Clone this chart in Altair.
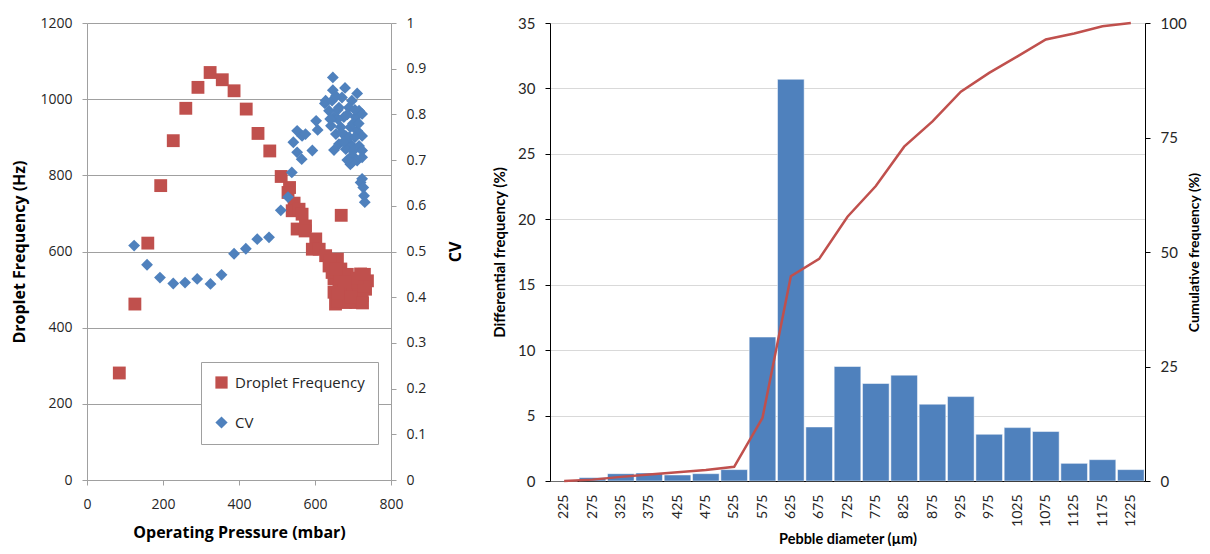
import altair as alt
import pandas as pd

# ---------------- Left chart data ----------------
freq_pressure = [85, 126, 160, 194, 227, 260, 292, 324, 356, 387, 419, 450, 481, 511,
                 533, 529, 545, 540, 558, 566, 553, 575, 574, 602, 593, 611, 628, 637,
                 659, 668, 650, 663, 650, 654, 681, 707, 724, 720, 738, 689, 698, 672,
                 733, 711, 669, 645, 660, 676, 690, 700, 715, 728, 665, 685, 640, 655,
                 695, 710, 725, 680, 660, 730]
freq_hz = [281, 462, 622, 773, 891, 976, 1031, 1070, 1051, 1022, 974, 910, 864, 797,
           768, 755, 727, 707, 711, 698, 659, 667, 654, 633, 606, 606, 589, 562,
           580, 554, 528, 510, 493, 462, 466, 466, 484, 541, 523, 519, 493, 484,
           501, 510, 695, 545, 470, 500, 470, 505, 485, 510, 530, 540, 575, 555,
           480, 530, 465, 520, 490, 540]

cv_pressure = [124, 158, 192, 227, 258, 290, 325, 354, 387, 418, 448, 479, 510, 529,
               539, 553, 543, 553, 566, 575, 565, 593, 603, 607, 626, 628, 647, 647,
               679, 711, 645, 671, 697, 716, 637, 663, 689, 650, 676, 707, 724, 642,
               668, 693, 711, 655, 681, 724, 663, 693, 716, 650, 681, 724, 698, 711,
               693, 698, 724, 724, 720, 727, 729, 731, 655, 685, 700, 660, 670, 690,
               705, 675, 700, 685, 640, 715, 705, 660]
cv_values = [0.513, 0.471, 0.443, 0.430, 0.432, 0.440, 0.429, 0.449, 0.495, 0.506,
             0.527, 0.531, 0.590, 0.619, 0.673, 0.717, 0.739, 0.764, 0.753, 0.757,
             0.702, 0.721, 0.786, 0.766, 0.824, 0.830, 0.881, 0.853, 0.858, 0.846,
             0.830, 0.837, 0.830, 0.808, 0.808, 0.815, 0.815, 0.794, 0.794, 0.794,
             0.801, 0.775, 0.772, 0.772, 0.764, 0.757, 0.753, 0.753, 0.735, 0.735,
             0.731, 0.722, 0.724, 0.721, 0.710, 0.699, 0.691, 0.695, 0.706, 0.659,
             0.651, 0.640, 0.622, 0.608, 0.840, 0.800, 0.780, 0.790, 0.760, 0.750,
             0.750, 0.740, 0.720, 0.700, 0.790, 0.780, 0.810, 0.810]

# ---------------- Right chart data ----------------
diameters = ["225", "275", "325", "375", "425", "475", "525", "575", "625", "675",
             "725", "775", "825", "875", "925", "975", "1025", "1075", "1125", "1175", "1225"]
differential = [0, 0.26, 0.56, 0.61, 0.46, 0.56, 0.87, 11.0, 30.7, 4.13,
                8.75, 7.45, 8.09, 5.87, 6.45, 3.57, 4.08, 3.78, 1.35, 1.63, 0.87]
cumulative = [0, 0.3, 0.9, 1.4, 1.9, 2.4, 3.1, 13.8, 44.7, 48.5,
              57.7, 64.4, 73.0, 78.5, 85.0, 89.1, 92.7, 96.4, 97.7, 99.3, 100]

RED = "#C0504D"
BLUE = "#4F81BD"
LFONT = "Open Sans"
RFONT = "Lato"
LGRAY = "#A0A0A0"

df_f = pd.DataFrame({"p": freq_pressure, "v": freq_hz, "s": "Droplet Frequency"})
df_c = pd.DataFrame({"p": cv_pressure, "v": cv_values, "s": "CV"})

series = ["Droplet Frequency", "CV"]
color_scale = alt.Scale(domain=series, range=[RED, BLUE])
shape_scale = alt.Scale(domain=series, range=["square", "diamond"])
legend = alt.Legend(orient="none", legendX=114, legendY=339, title=None,
                    fillColor="white", strokeColor=LGRAY, padding=13,
                    rowPadding=24, labelFontSize=15, labelFont=LFONT,
                    labelColor="#262626", symbolSize=150, symbolStrokeWidth=0,
                    labelOffset=6)

xenc = alt.X("p:Q", scale=alt.Scale(domain=[0, 800]),
             axis=alt.Axis(title="Operating Pressure (mbar)", values=[0, 200, 400, 600, 800],
                           grid=False, domainColor=LGRAY, tickColor=LGRAY, labelFlush=False,
                           tickSize=5, labelFontSize=14, labelFont=LFONT, labelColor="#262626",
                           titleFontSize=16, titleFont=LFONT, titleFontWeight="bold",
                           titleColor="#000000", titlePadding=13, labelPadding=12))

freq_layer = alt.Chart(df_f).mark_point(filled=True, opacity=1, size=165).encode(
    x=xenc,
    y=alt.Y("v:Q", scale=alt.Scale(domain=[0, 1200]),
            axis=alt.Axis(title="Droplet Frequency (Hz)", values=[0, 200, 400, 600, 800, 1000, 1200],
                          format="d", grid=True, gridColor=LGRAY, domainColor=LGRAY,
                          tickColor=LGRAY, tickSize=5, labelFontSize=14, labelFont=LFONT,
                          labelColor="#262626", titleFontSize=16, titleFont=LFONT,
                          titleFontWeight="bold", titleColor="#000000", titlePadding=12,
                          labelPadding=10)),
    color=alt.Color("s:N", scale=color_scale, legend=legend),
    shape=alt.Shape("s:N", scale=shape_scale, legend=legend),
)

cv_layer = alt.Chart(df_c).mark_point(filled=True, opacity=1, size=140).encode(
    x=xenc,
    y=alt.Y("v:Q", scale=alt.Scale(domain=[0, 1]),
            axis=alt.Axis(title="CV", orient="right", values=[0, 0.1, 0.2, 0.3, 0.4, 0.5, 0.6, 0.7, 0.8, 0.9, 1],
                          format="~g", grid=False, domainColor=LGRAY, tickColor=LGRAY,
                          tickSize=5, labelFontSize=14, labelFont=LFONT, labelColor="#262626",
                          titleFontSize=16, titleFont=LFONT, titleFontWeight="bold",
                          titleColor="#000000", titleAngle=270, titleBaseline="top",
                          titlePadding=22, labelPadding=10)),
    color=alt.Color("s:N", scale=color_scale, legend=legend),
    shape=alt.Shape("s:N", scale=shape_scale, legend=legend),
)

left = alt.layer(freq_layer, cv_layer).resolve_scale(y="independent").properties(
    width=304, height=457)

# ---------------- Right chart ----------------
df_r = pd.DataFrame({"d": diameters, "diff": differential, "cum": cumulative})

xband = alt.X("d:N", sort=diameters,
              scale=alt.Scale(paddingInner=0.06, paddingOuter=0.03),
              axis=alt.Axis(title="Pebble diameter (µm)", labelAngle=270, ticks=False,
                            domainColor="#000000", labelFontSize=14, labelFont=RFONT,
                            labelColor="#262626", labelPadding=13, titleFontSize=14.5,
                            titleFont=RFONT, titleFontWeight="bold", titleColor="#000000",
                            titlePadding=6, labelBaseline="middle"))

bars = alt.Chart(df_r).mark_bar(color=BLUE, stroke="#FFFFFF", strokeWidth=0.5).encode(
    x=xband,
    y=alt.Y("diff:Q", scale=alt.Scale(domain=[0, 35]),
            axis=alt.Axis(title="Differential frequency (%)", values=[0, 5, 10, 15, 20, 25, 30, 35],
                          grid=True, gridColor="#D9D9D9", domainColor="#000000",
                          tickColor="#000000", tickSize=5, labelFontSize=15, labelFont=RFONT,
                          labelColor="#262626", titleFontSize=15, titleFont=RFONT,
                          titleFontWeight="bold", titleColor="#000000", titlePadding=10,
                          labelPadding=10)),
)

line = alt.Chart(df_r).mark_line(color=RED, strokeWidth=2.5).encode(
    x=xband,
    y=alt.Y("cum:Q", scale=alt.Scale(domain=[0, 100]),
            axis=alt.Axis(title="Cumulative frequency (%)", orient="right",
                          values=[0, 25, 50, 75, 100], grid=False, domainColor="#000000",
                          tickColor="#000000", tickSize=5, labelFontSize=15, labelFont=RFONT,
                          labelColor="#262626", titleFontSize=14, titleFont=RFONT,
                          titleFontWeight="bold", titleColor="#000000", titleAngle=270,
                          titleBaseline="top", titlePadding=1, labelPadding=10)),
)

right = alt.layer(bars, line).resolve_scale(y="independent").properties(
    width=595, height=458)

chart = alt.hconcat(left, right, spacing=28).properties(
    padding={"left": 3, "top": 8, "right": 0, "bottom": 0}
).configure_view(stroke=None).configure_legend(symbolType="square")

chart.save("out.html", embed_options={"renderer": "svg", "actions": False})
